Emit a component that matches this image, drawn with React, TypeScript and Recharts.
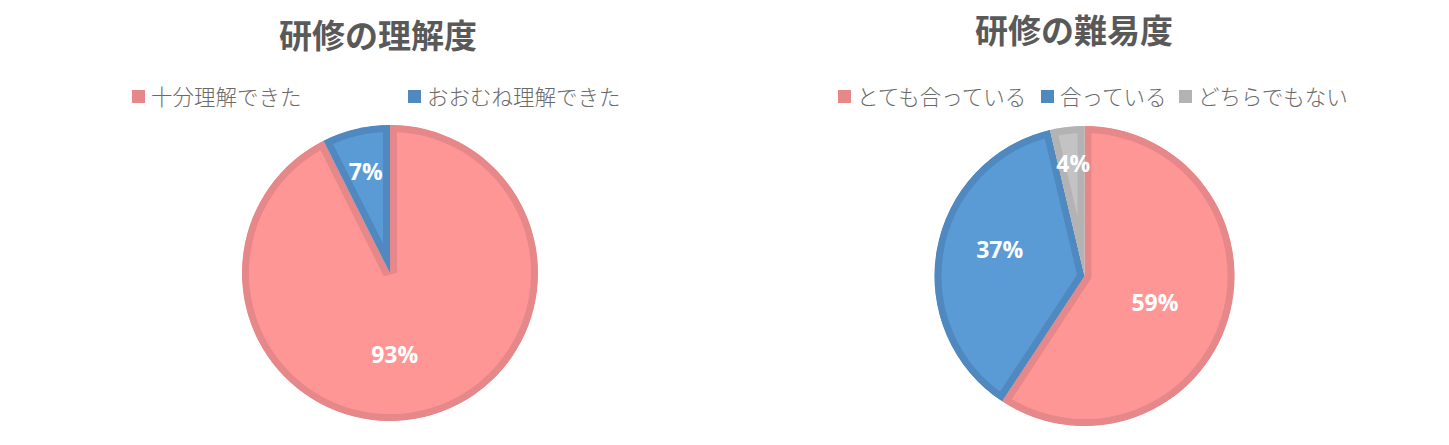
import React from 'react';
import { PieChart, Pie, Cell, Sector } from 'recharts';

// 研修の理解度 (n=27)
const understandNames = ['十分理解できた', 'おおむね理解できた'];
const understandValues = [25, 2];

// 研修の難易度 (n=27)
const difficultyNames = ['とても合っている', '合っている', 'どちらでもない'];
const difficultyValues = [16, 10, 1];

const FILL: Record<string, string> = {
  十分理解できた: '#ff9696',
  おおむね理解できた: '#5b9bd5',
  とても合っている: '#ff9696',
  合っている: '#5b9bd5',
  どちらでもない: '#c3c3c3',
};
const BORDER: Record<string, string> = {
  十分理解できた: '#e6888a',
  おおむね理解できた: '#4f89c0',
  とても合っている: '#e6888a',
  合っている: '#4f89c0',
  どちらでもない: '#b3b3b3',
};

// label radius (px) and angle nudge (deg), Excel "best fit" look
const LABEL_POS: Record<string, [number, number]> = {
  十分理解できた: [81, -10],
  おおむね理解できた: [105, 0],
  とても合っている: [75, -3.5],
  合っている: [89, -7.6],
  どちらでもない: [114, -1],
};

const JP = '"Noto Sans CJK JP", "Noto Sans", sans-serif';
const TEXT = '#595959';

const toRows = (names: string[], values: number[]) => names.map((name, i) => ({ name, value: values[i] }));

function borderedSector(prefix: string) {
  return (props: any) => {
    const { cx, cy, innerRadius, outerRadius, startAngle, endAngle, payload } = props;
    const name = payload?.name ?? props.name;
    const id = `${prefix}-${understandNames.concat(difficultyNames).indexOf(name)}`;
    return (
      <g>
        <defs>
          <clipPath id={id}>
            <Sector cx={cx} cy={cy} innerRadius={innerRadius} outerRadius={outerRadius} startAngle={startAngle} endAngle={endAngle} />
          </clipPath>
        </defs>
        <Sector
          cx={cx}
          cy={cy}
          innerRadius={innerRadius}
          outerRadius={outerRadius}
          startAngle={startAngle}
          endAngle={endAngle}
          fill={FILL[name]}
          stroke={BORDER[name]}
          strokeWidth={14}
          clipPath={`url(#${id})`}
        />
      </g>
    );
  };
}

const renderLabel = (props: any) => {
  const { cx, cy, midAngle, percent, payload } = props;
  const name = payload?.name ?? props.name;
  const [r, shift] = LABEL_POS[name] || [90, 0];
  const a = (-(midAngle + shift) * Math.PI) / 180;
  const x = cx + r * Math.cos(a);
  const y = cy + r * Math.sin(a);
  return (
    <text x={x} y={y} fill="#fff" textAnchor="middle" dominantBaseline="central" fontFamily='"Open Sans", "Noto Sans", sans-serif' fontWeight={700} fontSize={23}>
      {Math.round(percent * 100)}%
    </text>
  );
};

function LegendRow({ names, lefts, top }: { names: string[]; lefts: number[]; top: number }) {
  return (
    <>
      {names.map((n, i) => (
        <div key={n} style={{ position: 'absolute', left: lefts[i], top, display: 'flex', alignItems: 'center', fontFamily: JP, fontWeight: 300, fontSize: 21.5, color: '#6a6a6a', whiteSpace: 'nowrap', lineHeight: '28px' }}>
          <span style={{ display: 'inline-block', width: 13, height: 13, background: BORDER[n], marginRight: 6 }} />
          {n}
        </div>
      ))}
    </>
  );
}

function Title({ text, center, top }: { text: string; center: number; top: number }) {
  return (
    <div style={{ position: 'absolute', left: center - 200, width: 400, top, textAlign: 'center', fontFamily: JP, fontWeight: 700, fontSize: 33, color: TEXT, lineHeight: '40px' }}>
      {text}
    </div>
  );
}

export default function App() {
  const understand = toRows(understandNames, understandValues);
  const difficulty = toRows(difficultyNames, difficultyValues);
  return (
    <div style={{ position: 'relative', width: 1449, height: 445, background: '#fff', overflow: 'hidden' }}>
      <style>{`body{margin:0}`}</style>
      <Title text="研修の理解度" center={378} top={14} />
      <Title text="研修の難易度" center={1074} top={9} />
      <LegendRow names={understandNames} lefts={[132, 408]} top={82} />
      <LegendRow names={difficultyNames} lefts={[838, 1041, 1179]} top={82} />

      <div style={{ position: 'absolute', left: 0, top: 0 }}>
        <PieChart width={724} height={445}>
          <Pie
            data={understand}
            dataKey="value"
            nameKey="name"
            cx={385}
            cy={268}
            outerRadius={148}
            startAngle={90}
            endAngle={-270}
            stroke="none"
            shape={borderedSector('u')}
            label={renderLabel}
            labelLine={false}
            isAnimationActive={false}
          >
            {understand.map((d) => (
              <Cell key={d.name} fill={FILL[d.name]} />
            ))}
          </Pie>
        </PieChart>
      </div>

      <div style={{ position: 'absolute', left: 724, top: 0 }}>
        <PieChart width={725} height={445}>
          <Pie
            data={difficulty}
            dataKey="value"
            nameKey="name"
            cx={355.5}
            cy={271}
            outerRadius={150}
            startAngle={90}
            endAngle={-270}
            stroke="none"
            shape={borderedSector('d')}
            label={renderLabel}
            labelLine={false}
            isAnimationActive={false}
          >
            {difficulty.map((d) => (
              <Cell key={d.name} fill={FILL[d.name]} />
            ))}
          </Pie>
        </PieChart>
      </div>
    </div>
  );
}
